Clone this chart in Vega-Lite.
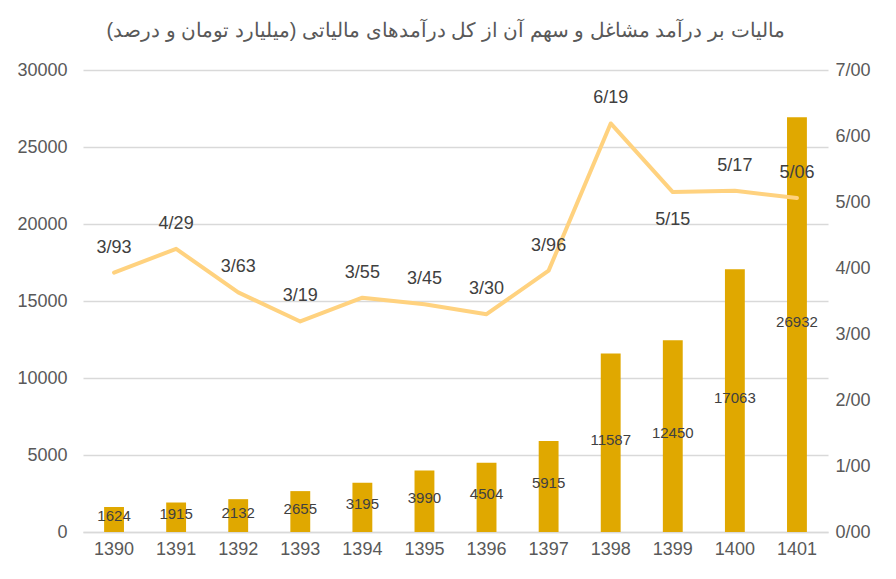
{
  "$schema": "https://vega.github.io/schema/vega-lite/v6.json",
  "width": 745,
  "height": 462,
  "autosize": {"type": "none"},
  "padding": {"left": 83, "top": 70, "right": 68, "bottom": 47},
  "background": "white",
  "title": {
    "text": "\u200fمالیات بر درآمد مشاغل و سهم آن از کل درآمدهای مالیاتی (میلیارد تومان و درصد)\u200f",
    "font": "Liberation Sans",
    "fontSize": 20,
    "fontWeight": "normal",
    "color": "#595959",
    "anchor": "middle",
    "offset": 20,
    "dx": -10
  },
  "data": {
    "values": [
      {"year": 1390, "tax": 1624, "share": 3.93},
      {"year": 1391, "tax": 1915, "share": 4.29},
      {"year": 1392, "tax": 2132, "share": 3.63},
      {"year": 1393, "tax": 2655, "share": 3.19},
      {"year": 1394, "tax": 3195, "share": 3.55},
      {"year": 1395, "tax": 3990, "share": 3.45},
      {"year": 1396, "tax": 4504, "share": 3.30},
      {"year": 1397, "tax": 5915, "share": 3.96},
      {"year": 1398, "tax": 11587, "share": 6.19},
      {"year": 1399, "tax": 12450, "share": 5.15},
      {"year": 1400, "tax": 17063, "share": 5.17},
      {"year": 1401, "tax": 26932, "share": 5.06}
    ]
  },
  "encoding": {
    "x": {
      "field": "year",
      "type": "ordinal",
      "title": null,
      "scale": {"paddingInner": 0.68, "paddingOuter": 0.34},
      "axis": {
        "labelAngle": 0,
        "labelFont": "Liberation Sans",
        "labelFontSize": 18,
        "labelColor": "#595959",
        "labelPadding": 8,
        "ticks": false,
        "domainColor": "#D9D9D9",
        "domainWidth": 1.5
      }
    }
  },
  "layer": [
    {
      "layer": [
        {
          "mark": {"type": "bar", "color": "#E0A800"},
          "encoding": {
            "y": {
              "field": "tax",
              "type": "quantitative",
              "title": null,
              "scale": {"domain": [0, 30000]},
              "axis": {
                "orient": "left",
                "values": [0, 5000, 10000, 15000, 20000, 25000, 30000],
                "format": "d",
                "labelFont": "Liberation Sans",
                "labelFontSize": 18,
                "labelColor": "#595959",
                "labelPadding": 16,
                "ticks": false,
                "domain": false,
                "gridColor": "#D9D9D9",
                "gridWidth": 1.5
              }
            }
          }
        },
        {
          "transform": [{"calculate": "datum.tax / 2", "as": "mid"}],
          "mark": {
            "type": "text",
            "font": "Liberation Sans",
            "fontSize": 15,
            "color": "#404040",
            "baseline": "middle",
            "dy": -3
          },
          "encoding": {
            "y": {"field": "mid", "type": "quantitative", "title": null},
            "text": {"field": "tax", "type": "quantitative", "format": "d"}
          }
        }
      ]
    },
    {
      "transform": [
        {"calculate": "replace(format(datum.share, '.2f'), '.', '/')", "as": "lbl"}
      ],
      "layer": [
        {
          "mark": {
            "type": "line",
            "color": "#FFD27F",
            "strokeWidth": 4,
            "strokeCap": "round",
            "strokeJoin": "round"
          },
          "encoding": {
            "y": {
              "field": "share",
              "type": "quantitative",
              "title": null,
              "scale": {"domain": [0, 7]},
              "axis": {
                "orient": "right",
                "values": [0, 1, 2, 3, 4, 5, 6, 7],
                "labelExpr": "replace(format(datum.value, '.2f'), '.', '/')",
                "labelFont": "Liberation Sans",
                "labelFontSize": 18,
                "labelColor": "#595959",
                "labelPadding": 7,
                "ticks": false,
                "domain": false,
                "grid": false
              }
            }
          }
        },
        {
          "transform": [{"filter": "datum.year != 1399"}],
          "mark": {
            "type": "text",
            "font": "Liberation Sans",
            "fontSize": 18,
            "color": "#404040",
            "baseline": "middle",
            "dy": -25
          },
          "encoding": {
            "y": {"field": "share", "type": "quantitative", "title": null},
            "text": {"field": "lbl", "type": "nominal"}
          }
        },
        {
          "transform": [{"filter": "datum.year == 1399"}],
          "mark": {
            "type": "text",
            "font": "Liberation Sans",
            "fontSize": 18,
            "color": "#404040",
            "baseline": "middle",
            "dy": 28
          },
          "encoding": {
            "y": {"field": "share", "type": "quantitative", "title": null},
            "text": {"field": "lbl", "type": "nominal"}
          }
        }
      ]
    }
  ],
  "resolve": {"scale": {"y": "independent"}},
  "config": {"view": {"stroke": null}}
}
